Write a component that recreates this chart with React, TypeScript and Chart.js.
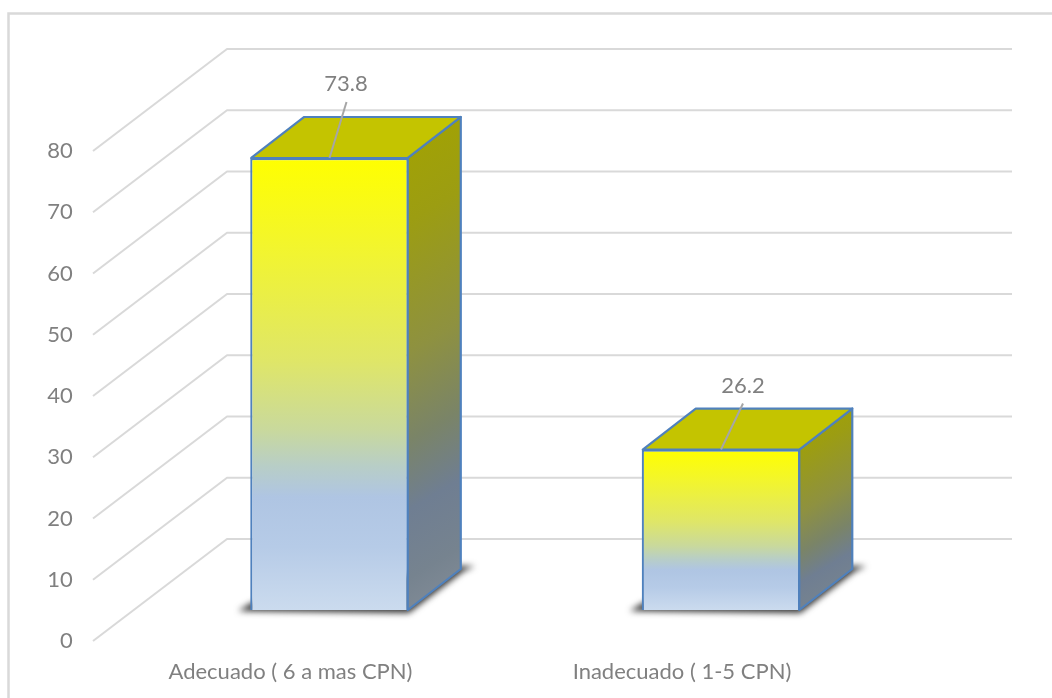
import React, { useEffect, useRef } from "react";
import { Chart, registerables } from "chart.js";

Chart.register(...registerables);

const categories = ["Adecuado ( 6 a mas CPN)", "Inadecuado ( 1-5 CPN)"];
const percentages = [73.8, 26.2];
const axisMax = 80;
const axisStep = 10;

const TEXT = "#808080";
const GRID = "#d9d9d9";
const EDGE = "#4f81bd";
const FONT = "Lato, Carlito, sans-serif";

// Oblique projection: bars stand partway into a floor that has a larger total depth.
const BAR_DEPTH = { x: 53, y: -41 };
const WALL_BACK = { x: 227, y: -71 };
const WALL_FRONT = { x: 93, y: 31 };
const WALL_END = 1012;

// Where each value label sits relative to the top centre of its bar.
const LABEL_SHIFT = [
  { x: 16.5, y: -74, lineX: 17, lineY: -56 },
  { x: 22, y: -64, lineX: 22, lineY: -46 },
];

function frontFill(c: CanvasRenderingContext2D, top: number, bottom: number) {
  const g = c.createLinearGradient(0, top, 0, bottom);
  g.addColorStop(0, "#ffff00");
  g.addColorStop(0.2, "#f2f52e");
  g.addColorStop(0.45, "#dfe668");
  g.addColorStop(0.6, "#c9d99c");
  g.addColorStop(0.68, "#b8cec6");
  g.addColorStop(0.75, "#afc5e3");
  g.addColorStop(0.86, "#b6cbe7");
  g.addColorStop(1, "#cbdbee");
  return g;
}

function poly(c: CanvasRenderingContext2D, pts: number[][]) {
  c.beginPath();
  pts.forEach(([x, y], i) => (i ? c.lineTo(x, y) : c.moveTo(x, y)));
  c.closePath();
}

const perspectivePlugin = {
  id: "perspective",
  beforeDraw(chart: any) {
    const c = chart.ctx;
    c.save();
    c.fillStyle = "#ffffff";
    c.fillRect(0, 0, chart.width, chart.height);
    c.strokeStyle = GRID;
    c.lineWidth = 2.5;
    c.beginPath();
    c.moveTo(8.5, chart.height);
    c.lineTo(8.5, 13.5);
    c.lineTo(chart.width, 13.5);
    c.stroke();
    c.restore();
  },
  beforeDatasetsDraw(chart: any) {
    const c = chart.ctx;
    const y = chart.scales.y;
    c.save();
    // Side wall and back wall gridlines
    c.strokeStyle = GRID;
    c.lineWidth = 2;
    c.lineJoin = "round";
    for (const tick of y.ticks) {
      const py = y.getPixelForValue(tick.value);
      c.beginPath();
      c.moveTo(WALL_FRONT.x, py + WALL_FRONT.y);
      c.lineTo(WALL_BACK.x, py + WALL_BACK.y);
      c.lineTo(WALL_END, py + WALL_BACK.y);
      c.stroke();
    }
    // Soft floor shadow under each bar
    const meta = chart.getDatasetMeta(0);
    c.filter = "blur(3px)";
    c.fillStyle = "#333333";
    for (const bar of meta.data) {
      const { x, base, width } = bar.getProps(["x", "base", "width"], true);
      const l = x - width / 2 + 1;
      const r = x + width / 2 - 1;
      poly(c, [
        [l - 13, base + 1],
        [r + 1, base + 3],
        [r + BAR_DEPTH.x + 3, base + BAR_DEPTH.y + 2],
        [r + BAR_DEPTH.x + 14, base + BAR_DEPTH.y - 3],
        [r + BAR_DEPTH.x - 6, base + BAR_DEPTH.y - 3],
        [l, base - 7],
      ]);
      c.fill();
    }
    c.restore();
  },
  afterDatasetsDraw(chart: any) {
    const c = chart.ctx;
    const meta = chart.getDatasetMeta(0);
    meta.data.forEach((bar: any, i: number) => {
      const { x, y, base, width } = bar.getProps(["x", "y", "base", "width"], true);
      // Faces join the centre of the front border, which sits inside the bar's box
      const l = x - width / 2 + 1;
      const r = x + width / 2 - 1;
      const dx = BAR_DEPTH.x;
      const dy = BAR_DEPTH.y;
      c.save();
      c.lineWidth = 2.2;
      c.lineJoin = "round";
      c.strokeStyle = EDGE;

      // Right-hand face, shaded along a slanted axis
      const h = base - y;
      const slant = 0.6;
      const t = (dx * slant + (h - dy)) / (slant * slant + 1);
      const side = c.createLinearGradient(r, y + dy, r + t * slant, y + dy + t);
      side.addColorStop(0, "#a3a300");
      side.addColorStop(0.2, "#9c9d12");
      side.addColorStop(0.45, "#8e9140");
      side.addColorStop(0.62, "#7a8468");
      side.addColorStop(0.75, "#6f7e92");
      side.addColorStop(0.88, "#76838f");
      side.addColorStop(1, "#858e99");
      poly(c, [
        [r, y],
        [r + dx, y + dy],
        [r + dx, base + dy],
        [r, base],
      ]);
      c.fillStyle = side;
      c.fill();
      c.stroke();

      // Top face
      poly(c, [
        [l, y],
        [l + dx, y + dy],
        [r + dx, y + dy],
        [r, y],
      ]);
      c.fillStyle = "#c4c400";
      c.fill();
      c.stroke();

      // Value label with its leader line
      const shift = LABEL_SHIFT[i];
      c.strokeStyle = "#a6a6a6";
      c.lineWidth = 2;
      c.beginPath();
      c.moveTo(x, y);
      c.lineTo(x + shift.lineX, y + shift.lineY);
      c.stroke();
      c.fillStyle = TEXT;
      c.font = `22px ${FONT}`;
      c.textAlign = "center";
      c.textBaseline = "middle";
      c.fillText(String(percentages[i]), x + shift.x, y + shift.y);
      c.restore();
    });
  },
};

export default function App() {
  const ref = useRef<HTMLCanvasElement | null>(null);

  useEffect(() => {
    if (!ref.current) return;
    const chart = new Chart(ref.current, {
      type: "bar",
      data: {
        labels: categories,
        datasets: [
          {
            data: percentages,
            barPercentage: 0.405,
            categoryPercentage: 1,
            borderColor: EDGE,
            borderWidth: 2.2,
            backgroundColor: (ctx: any) => {
              const { chart: ch, raw } = ctx;
              if (!ch.chartArea || raw === undefined) return "#ffff00";
              const s = ch.scales.y;
              return frontFill(ch.ctx, s.getPixelForValue(raw), s.getPixelForValue(0));
            },
          },
        ],
      },
      options: {
        responsive: false,
        animation: false,
        layout: { padding: { top: 120, right: 135.25, left: 0, bottom: 0 } },
        plugins: { legend: { display: false }, tooltip: { enabled: false } },
        scales: {
          x: {
            grid: { display: false },
            border: { display: false },
            afterFit: (s: any) => {
              s.height = 88;
            },
            ticks: {
              color: TEXT,
              font: { family: FONT, size: 22 },
              padding: 41,
              labelOffset: -39,
              maxRotation: 0,
            },
          },
          y: {
            min: 0,
            max: axisMax,
            grid: { display: false, drawTicks: false },
            border: { display: false },
            afterFit: (s: any) => {
              s.width = 133.75;
            },
            ticks: {
              stepSize: axisStep,
              color: TEXT,
              font: { family: FONT, size: 22 },
              padding: 61,
              labelOffset: 31,
            },
          },
        },
      },
      plugins: [perspectivePlugin],
    } as any);
    return () => chart.destroy();
  }, []);

  return (
    <div style={{ position: "fixed", left: 0, top: 0, width: 1052, height: 698 }}>
      <canvas ref={ref} width={1052} height={698} style={{ display: "block" }} />
    </div>
  );
}
